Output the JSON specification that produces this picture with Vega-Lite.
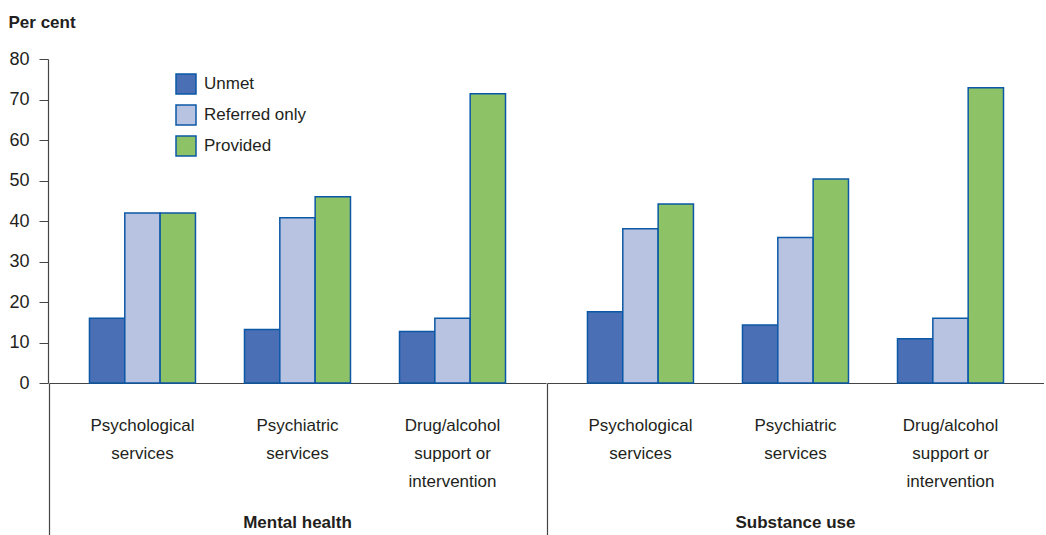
{
  "$schema": "https://vega.github.io/schema/vega-lite/v6.json",
  "padding": {"left": 8, "top": 13, "right": 0, "bottom": 0},
  "background": "white",
  "data": {"values": [
    {"group": "Mental health", "service": "Psychological services", "status": "Unmet", "value": 16.0},
    {"group": "Mental health", "service": "Psychological services", "status": "Referred only", "value": 42.0},
    {"group": "Mental health", "service": "Psychological services", "status": "Provided", "value": 42.0},
    {"group": "Mental health", "service": "Psychiatric services", "status": "Unmet", "value": 13.2},
    {"group": "Mental health", "service": "Psychiatric services", "status": "Referred only", "value": 40.8},
    {"group": "Mental health", "service": "Psychiatric services", "status": "Provided", "value": 46.0},
    {"group": "Mental health", "service": "Drug/alcohol support or intervention", "status": "Unmet", "value": 12.7},
    {"group": "Mental health", "service": "Drug/alcohol support or intervention", "status": "Referred only", "value": 16.0},
    {"group": "Mental health", "service": "Drug/alcohol support or intervention", "status": "Provided", "value": 71.4},
    {"group": "Substance use", "service": "Psychological services", "status": "Unmet", "value": 17.6},
    {"group": "Substance use", "service": "Psychological services", "status": "Referred only", "value": 38.1},
    {"group": "Substance use", "service": "Psychological services", "status": "Provided", "value": 44.2},
    {"group": "Substance use", "service": "Psychiatric services", "status": "Unmet", "value": 14.3},
    {"group": "Substance use", "service": "Psychiatric services", "status": "Referred only", "value": 35.9},
    {"group": "Substance use", "service": "Psychiatric services", "status": "Provided", "value": 50.4},
    {"group": "Substance use", "service": "Drug/alcohol support or intervention", "status": "Unmet", "value": 10.9},
    {"group": "Substance use", "service": "Drug/alcohol support or intervention", "status": "Referred only", "value": 16.0},
    {"group": "Substance use", "service": "Drug/alcohol support or intervention", "status": "Provided", "value": 72.9}
  ]},
  "facet": {
    "column": {
      "field": "group", "type": "nominal", "sort": ["Mental health", "Substance use"],
      "header": {"title": null, "labelOrient": "bottom", "labelFontSize": 17, "labelFontWeight": "bold", "labelColor": "#231f20", "labelPadding": -29}
    }
  },
  "spacing": 0,
  "resolve": {"scale": {"x": "independent"}},
  "spec": {
    "width": 497,
    "height": 324,
    "layer": [
      {
        "mark": {"type": "bar", "stroke": "#0b58a6", "strokeWidth": 1.5},
        "encoding": {
          "x": {
            "field": "service", "type": "nominal",
            "sort": ["Psychological services", "Psychiatric services", "Drug/alcohol support or intervention"],
            "scale": {"paddingInner": 0.316, "paddingOuter": 0.261},
            "axis": {"title": null, "orient": "bottom", "labelAngle": 0, "ticks": false, "labelPadding": 34, "labelFontSize": 17, "labelLineHeight": 28, "labelBaseline": "top", "labelColor": "#231f20", "domainColor": "#444444", "domainWidth": 1.2,
              "labelExpr": "datum.value == 'Drug/alcohol support or intervention' ? ['Drug/alcohol', 'support or', 'intervention'] : split(datum.value, ' ')"}
          },
          "xOffset": {"field": "status", "type": "nominal", "sort": ["Unmet", "Referred only", "Provided"], "scale": {"range": [0, 106], "paddingInner": 0, "paddingOuter": 0}},
          "y": {
            "field": "value", "type": "quantitative",
            "scale": {"domain": [0, 80], "nice": false},
            "axis": {"title": "Per cent", "values": [0, 10, 20, 30, 40, 50, 60, 70, 80], "grid": false, "tickSize": 9, "tickColor": "#444444", "domainColor": "#444444", "domainWidth": 1.2, "labelPadding": 10, "labelFontSize": 18, "labelColor": "#231f20",
              "titleAngle": 0, "titleAlign": "left", "titleBaseline": "alphabetic", "titleX": -40, "titleY": -32, "titleFontSize": 17, "titleFontWeight": "bold", "titleColor": "#231f20"}
          },
          "color": {
            "field": "status", "type": "nominal",
            "scale": {"domain": ["Unmet", "Referred only", "Provided"], "range": ["#4a6fb5", "#b8c3e1", "#8dc266"]},
            "legend": {"title": null, "orient": "none", "legendX": 126, "legendY": 14, "symbolType": "square", "symbolSize": 400, "symbolStrokeColor": "#0b58a6", "symbolStrokeWidth": 1.5, "symbolOpacity": 1, "labelFontSize": 17, "labelColor": "#231f20", "rowPadding": 5, "labelOffset": 7}
          }
        }
      },
      {
        "mark": {"type": "rule", "opacity": 0},
        "encoding": {
          "x": {"datum": 0, "type": "quantitative", "scale": {"domain": [0, 1], "nice": false, "zero": false},
            "axis": {"orient": "bottom", "values": [0], "labels": false, "domain": false, "grid": false, "ticks": true, "tickSize": 160, "tickColor": "#444444", "tickWidth": 1.2, "title": null}}
        }
      }
    ],
    "resolve": {"scale": {"x": "independent"}, "axis": {"x": "independent"}}
  },
  "config": {
    "font": "Liberation Sans, sans-serif",
    "view": {"stroke": null}
  }
}
